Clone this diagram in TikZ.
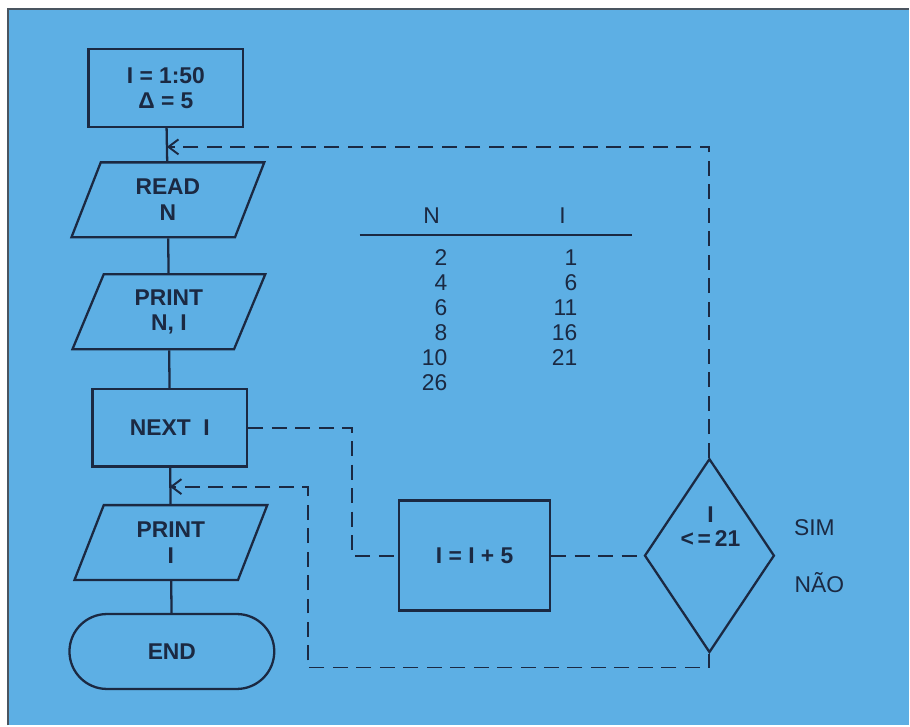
\documentclass[tikz,border=0pt]{standalone}
\usepackage{fontspec}
\setmainfont{Liberation Sans}
\usepackage{tikz}
\usetikzlibrary{arrows.meta,positioning,calc,shapes.geometric}
\definecolor{sky}{HTML}{5DAFE4}
\definecolor{ink}{HTML}{1B2942}
\definecolor{frame}{HTML}{4A5560}

\begin{document}
\begin{tikzpicture}[
  x=0.02cm,y=-0.02cm,
  every node/.style={text=ink,font=\fontsize{13}{14.5}\selectfont},
  chart/.style={draw=ink,line width=1.3pt,align=center,
    font=\fontsize{13}{14.5}\selectfont\bfseries},
  procbox/.style={chart,rectangle,minimum width=3.1cm,minimum height=1.55cm},
  iobox/.style={chart,trapezium,trapezium left angle=61,
    trapezium right angle=119,trapezium stretches body,
    minimum width=3.86cm,minimum height=1.5cm},
  decision/.style={chart,diamond,minimum width=2.6cm,minimum height=3.88cm,
    inner sep=0pt},
  terminal/.style={chart,rectangle,rounded corners=0.75cm,
    minimum width=4.1cm,minimum height=1.5cm},
  flowline/.style={draw=ink,line width=1.3pt},
  loopline/.style={draw=ink,line width=1.1pt,dash pattern=on 0.3cm off 0.17cm},
  back/.style={-{Straight Barb[length=2mm,width=3mm]}}
]
% card
\fill[white] (0,0) rectangle (910,726);
\fill[sky] (8,9) rectangle (910,726);
\draw[frame,line width=0.8pt] (8,726) -- (8,9) -- (910,9);

% left column
\node[procbox] (init) at (166,88) {I = 1:50\\Δ = 5};
\node[iobox] (read) at (168,200) {READ\\N};
\node[iobox] (prt) at (169,312) {PRINT\\N, I};
\node[procbox] (next) at (170,428) {NEXT\ \ I};
\node[iobox] (prti) at (171,543) {PRINT\\I};
\node[terminal] (stop) at (172,652) {END};
\draw[flowline] (init)--(read);
\draw[flowline] (read)--(prt);
\draw[flowline] (prt)--(next);
\draw[flowline] (next)--(prti);
\draw[flowline] (prti)--(stop);

% increment and test
\node[procbox,minimum width=3.02cm,minimum height=2.2cm] (inc) at (475,556)
  {I = I + 5};
\node[decision] (cond) at (710,556) {};
\node[font=\fontsize{13}{14}\selectfont\bfseries,align=center]
  (condtext) at (711,527) {I\\<\,=\,21};
\node (yes) at (815,528) {SIM};
\node (no) at (820,583) {NÃO};

% loops
\coordinate (loopin) at (167,147);
\coordinate (exitin) at (170,487);
\draw[loopline] (next.east) -- ++(104,0) |- (inc.west);
\draw[loopline] (inc.east) -- (cond.west);
\draw[loopline,back] (cond.north) |- (loopin);
\draw[loopline,back] (cond.south) |- (308,668) |- (exitin);

% trace table
\node (hn) at (432,216) {N};
\node (hi) at (563,216) {I};
\draw[ink,line width=0.9pt] (360,235) -- (632,235);
\foreach \v [count=\k] in {2,4,6,8,10,26}
  \node[anchor=east,inner sep=0pt] (n\k) at (448,233+25*\k) {\v};
\foreach \v [count=\k] in {1,6,11,16,21}
  \node[anchor=east,inner sep=0pt] (i\k) at (578,233+25*\k) {\v};
\end{tikzpicture}
\end{document}
